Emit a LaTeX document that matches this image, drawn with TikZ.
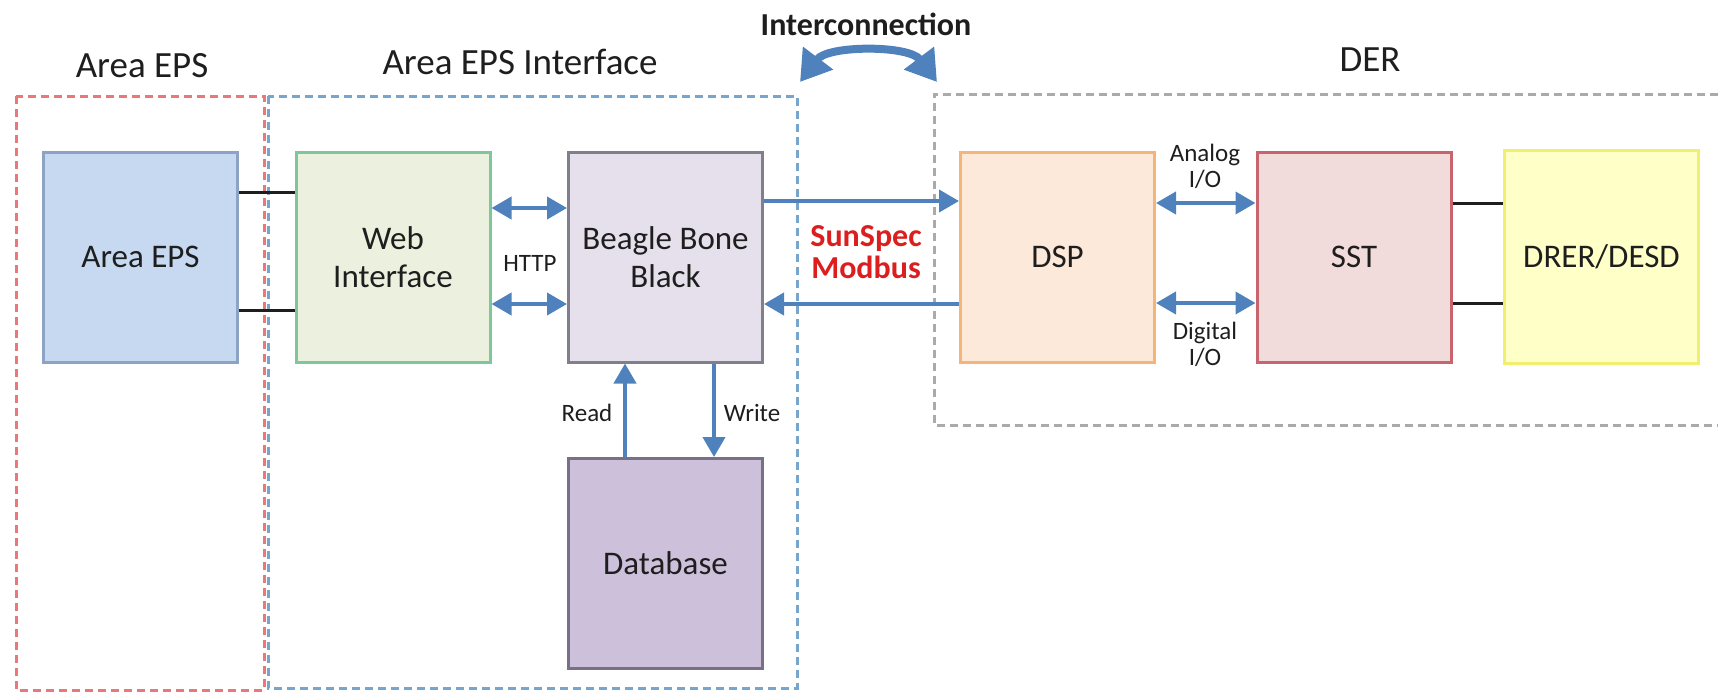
\documentclass[tikz,border=0pt]{standalone}
\usepackage{fontspec}
\setmainfont{Carlito}
\usetikzlibrary{arrows.meta}

\definecolor{epsfill}{RGB}{198,217,241}
\definecolor{epsline}{RGB}{141,163,196}
\definecolor{webfill}{RGB}{235,241,222}
\definecolor{webline}{RGB}{125,200,155}
\definecolor{bbbfill}{RGB}{229,224,236}
\definecolor{bbbline}{RGB}{128,128,140}
\definecolor{dbfill}{RGB}{204,192,218}
\definecolor{dbline}{RGB}{120,112,135}
\definecolor{dspfill}{RGB}{253,233,217}
\definecolor{dspline}{RGB}{245,180,120}
\definecolor{sstfill}{RGB}{242,220,219}
\definecolor{sstline}{RGB}{200,100,110}
\definecolor{drerfill}{RGB}{255,255,200}
\definecolor{drerline}{RGB}{240,240,110}
\definecolor{flowblue}{RGB}{79,129,189}
\definecolor{zonered}{RGB}{235,120,120}
\definecolor{zoneblue}{RGB}{120,165,205}
\definecolor{zonegray}{RGB}{170,170,170}
\definecolor{modbusred}{RGB}{220,30,30}
\definecolor{ink}{RGB}{30,30,30}

\newcommand\blkfont{\fontsize{16.5}{19}\selectfont}
\newcommand\ttlfont{\fontsize{18.5}{21}\selectfont}
\newcommand\lblfont{\fontsize{12.5}{13}\selectfont}
\newcommand\bldfont{\fontsize{16}{16}\selectfont\bfseries}

\tikzset{
  blk/.style={draw, line width=1.5pt, minimum width=97pt, minimum height=105pt,
              align=center, text=ink, font=\blkfont},
  zone/.style={line width=1.5pt, dash pattern=on 4pt off 2.5pt},
  wire/.style={line width=1.5pt, ink},
  flow/.style={line width=2pt, flowblue, -{Triangle[length=10pt,width=11pt]}},
  biflow/.style={flow, {Triangle[length=10pt,width=11pt]}-{Triangle[length=10pt,width=11pt]}},
  lbl/.style={text=ink, font=\lblfont, align=center},
}

\begin{document}
\begin{tikzpicture}[x=0.5pt,y=-0.5pt]
  \useasboundingbox (0,0) rectangle (1718,693);
  % Draw zones
  \draw[zone,zonered]  (16,96) rectangle (264,690);
  \draw[zone,zoneblue] (268,96) rectangle (797,688);
  \draw[zone,zonegray] (1718,94) -- (934,94) -- (934,425) -- (1718,425);
  \node (tEps) [text=ink,font=\ttlfont] at (142,66) {Area EPS};
  \node (tIfc) [text=ink,font=\ttlfont] at (520,62) {Area EPS Interface};
  \node (tDer) [text=ink,font=\ttlfont] at (1370,60) {DER};
  % Draw blocks
  \node (eps)  [blk,fill=epsfill,draw=epsline]   at (140.5,257) {Area EPS};
  \node (web)  [blk,fill=webfill,draw=webline]   at (393,257)   {Web\\Interface};
  \node (bbb)  [blk,fill=bbbfill,draw=bbbline]   at (665.5,257) {Beagle Bone\\Black};
  \node (db)   [blk,fill=dbfill,draw=dbline]     at (665.5,563.5) {Database};
  \node (dsp)  [blk,fill=dspfill,draw=dspline]   at (1057.5,257) {DSP};
  \node (sst)  [blk,fill=sstfill,draw=sstline]   at (1354,257)  {SST};
  \node (drer) [blk,fill=drerfill,draw=drerline,minimum height=106.5pt]
        at (1601.5,257) {DRER/DESD};
  % Black wires
  \draw[wire] ([yshift=32.5pt]eps.east) -- ([yshift=32.5pt]web.west);
  \draw[wire] ([yshift=-26.5pt]eps.east) -- ([yshift=-26.5pt]web.west);
  \draw[wire] ([yshift=27pt]sst.east) -- ([yshift=27pt]drer.west);
  \draw[wire] ([yshift=-23pt]sst.east) -- ([yshift=-23pt]drer.west);
  % Blue arrows
  \draw[biflow] ([yshift=24.5pt]web.east) -- ([yshift=24.5pt]bbb.west);
  \draw[biflow] ([yshift=-23.5pt]web.east) -- ([yshift=-23.5pt]bbb.west);
  \node (http) [lbl] at (530,263) {HTTP};
  \draw[flow] ([xshift=-20.25pt]db.north) -- ([xshift=-20.25pt]bbb.south);
  \draw[flow] ([xshift=24.25pt]bbb.south) -- ([xshift=24.25pt]db.north);
  \node (rd) [lbl] at (587,413) {Read};
  \node (wr) [lbl] at (752,413) {Write};
  \draw[flow] ([yshift=28pt]bbb.east) -- ([yshift=28pt]dsp.west);
  \draw[flow] ([yshift=-23.5pt]dsp.west) -- ([yshift=-23.5pt]bbb.east);
  \node (modbus) [text=modbusred,font=\bldfont,align=center] at (866,252)
        {SunSpec\\Modbus};
  \draw[biflow] ([yshift=27pt]dsp.east) -- ([yshift=27pt]sst.west);
  \draw[biflow] ([yshift=-23pt]dsp.east) -- ([yshift=-23pt]sst.west);
  \node (ana) [lbl] at (1205,166) {Analog\\I/O};
  \node (dig) [lbl] at (1205,344) {Digital\\I/O};
  % Interconnection
  \node (ic) [text=ink,font=\bldfont] at (866,24) {Interconnection};
  \coordinate (icL) at (800,82);
  \coordinate (icR) at (937,82);
  \draw[line width=4pt,flowblue,
        {Triangle[length=15pt,width=18pt]}-{Triangle[length=15pt,width=18pt]}]
        (icL) .. controls (828,45) and (909,45) .. (icR);
\end{tikzpicture}
\end{document}
